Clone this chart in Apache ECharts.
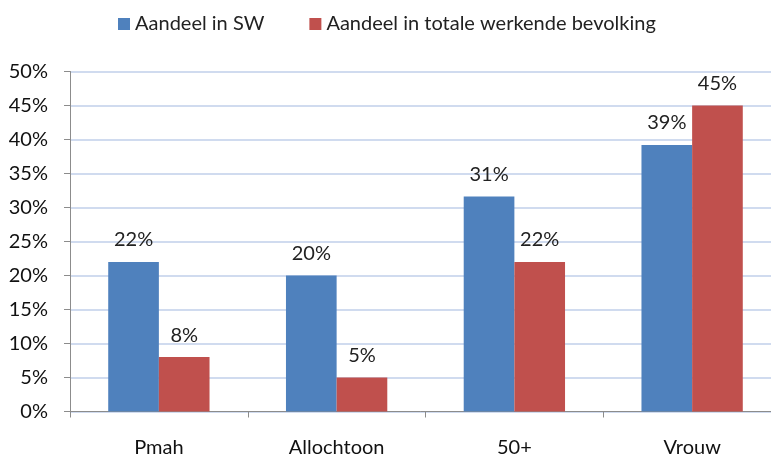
<!DOCTYPE html>
<html><head><meta charset="utf-8">
<script src="https://cdn.jsdelivr.net/npm/echarts@6/dist/echarts.min.js"></script>
<style>html,body{margin:0;padding:0;background:#fff}#c{width:771px;height:458px}</style>
</head><body><div id="c"></div>
<script>
const categories = ['Pmah', 'Allochtoon', '50+', 'Vrouw'];
const seriesNames = ['Aandeel in SW', 'Aandeel in totale werkende bevolking'];
const swValues = [22, 20, 31.6, 39.2];
const swLabels = ['22%', '20%', '31%', '39%'];
const totValues = [8, 5, 22, 45];
const totLabels = ['8%', '5%', '22%', '45%'];
const yTicks = [0, 5, 10, 15, 20, 25, 30, 35, 40, 45, 50];

const FONT = 'Lato';
const FS = 20;
const chart = echarts.init(document.getElementById('c'));
chart.setOption({
  animation: false,
  textStyle: { fontFamily: FONT },
  legend: {
    top: 14, left: 118, padding: 0, itemWidth: 12, itemHeight: 12, itemGap: 45,
    icon: 'rect',
    textStyle: { fontFamily: FONT, fontSize: FS, color: '#222' },
    data: seriesNames
  },
  grid: { left: 70, top: 71.5, width: 711, height: 340, outerBoundsMode: 'none', containLabel: false },
  xAxis: {
    type: 'category', data: categories,
    axisLine: { lineStyle: { color: '#8c8c8c', width: 1 } },
    axisTick: { show: true, length: 6, lineStyle: { color: '#8c8c8c' } },
    axisLabel: { fontFamily: FONT, fontSize: FS, color: '#111', margin: 26 }
  },
  yAxis: {
    type: 'value', min: 0, max: 50, interval: 5,
    axisLine: { show: true, lineStyle: { color: '#8c8c8c' } },
    axisTick: { show: true, length: 6, lineStyle: { color: '#8c8c8c' } },
    splitLine: { lineStyle: { color: '#d0dbef', width: 2 } },
    axisLabel: { fontFamily: FONT, fontSize: FS, color: '#111', margin: 22,
      formatter: v => yTicks.includes(v) ? v + '%' : '' }
  },
  series: [
    { name: seriesNames[0], type: 'bar', data: swValues, barGap: '0%', barCategoryGap: '43%',
      itemStyle: { color: '#4f81bd' },
      label: { show: true, position: 'top', distance: 12, fontFamily: FONT, fontSize: FS, color: '#222',
        formatter: p => swLabels[p.dataIndex] } },
    { name: seriesNames[1], type: 'bar', data: totValues, barGap: '0%', barCategoryGap: '43%',
      itemStyle: { color: '#c0504d' },
      label: { show: true, position: 'top', distance: 12, fontFamily: FONT, fontSize: FS, color: '#222',
        formatter: p => totLabels[p.dataIndex] } }
  ]
});
</script></body></html>
